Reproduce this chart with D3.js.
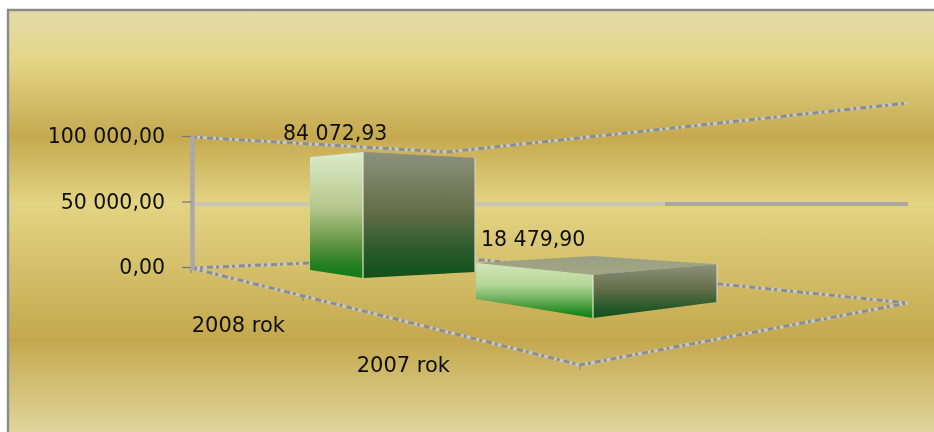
<!DOCTYPE html>
<html><head><meta charset="utf-8">
<script src="https://cdn.jsdelivr.net/npm/d3@7"></script>
<style>html,body{margin:0;padding:0;background:#fff}svg{display:block}text{font-family:"DejaVu Sans",sans-serif;fill:#111}</style>
</head><body><div id="chart"></div>
<script>
const categories = ["2008 rok", "2007 rok"];
const values = [84072.93, 18479.90];
const valueTicks = [0, 50000, 100000];

const W = 934, H = 432;
const svg = d3.select("#chart").append("svg").attr("width", W).attr("height", H);
const defs = svg.append("defs");
function grad(id, stops) {
  const g = defs.append("linearGradient").attr("id", id).attr("x1",0).attr("y1",0).attr("x2",0).attr("y2",1);
  stops.forEach(([o,c]) => g.append("stop").attr("offset", o).attr("stop-color", c));
}
grad("bg", [[0,"#e3dba9"],[0.115,"#e4d688"],[0.30,"#c5a94f"],[0.46,"#e3d483"],[0.78,"#c4a84e"],[1,"#e1d59b"]]);
grad("left0", [[0,"#dcebca"],[0.45,"#b4c68b"],[0.72,"#649643"],[0.88,"#2b8026"],[1,"#0e7a14"]]);
grad("left1", [[0,"#d2e5b8"],[0.4,"#b5d698"],[0.7,"#62aa52"],[0.9,"#218c22"],[1,"#0f7e14"]]);
grad("right", [[0,"#8d917c"],[0.45,"#676f4a"],[0.8,"#28592a"],[1,"#10501c"]]);
grad("top", [[0,"#9a9f82"],[1,"#a2a787"]]);
defs.append("filter").attr("id","soft").append("feGaussianBlur").attr("stdDeviation",0.45);

// background, with the frame showing only at the top and left
svg.append("rect").attr("x",8).attr("y",10).attr("width",W-8).attr("height",H-10).attr("fill","url(#bg)");
svg.append("path").attr("d",`M8,${H}V10H${W}`).attr("fill","none").attr("stroke","#8c8c86").attr("stroke-width",2.4);

const plot = svg.append("g").attr("filter","url(#soft)");

const font = 20.5;
const y = d3.scaleLinear().domain([0,100000]).range([267,136]);
const fmtLocale = d3.formatLocale({decimal:",",thousands:"\u00a0",grouping:[3],currency:["","zł"]});
const fmt = fmtLocale.format(",.2f");

function mottled(pts) {
  const line = d3.line();
  plot.append("path").attr("d",line(pts)).attr("fill","none").attr("stroke","#c8c7bf").attr("stroke-width",3.2);
  plot.append("path").attr("d",line(pts)).attr("fill","none").attr("stroke","#8d8c88").attr("stroke-width",3).attr("stroke-dasharray","6 3 3 4");
}
// walls and floor
mottled([[191,y(100000)+1],[447,152],[908,103]]);
mottled([[191,268],[452,257],[908,303]]);
mottled([[191,268],[580,365],[908,303]]);
// floor tick marks
[[191,268],[303,296],[580,365]].forEach(([x0,y0]) =>
  plot.append("line").attr("x1",x0).attr("x2",x0).attr("y1",y0).attr("y2",y0+5).attr("stroke","#8a8985").attr("stroke-width",1.2));

// 50 000 gridline
plot.append("line").attr("x1",193).attr("x2",665).attr("y1",y(50000)+2.5).attr("y2",y(50000)+2.5).attr("stroke","#c8c5b4").attr("stroke-width",4);
plot.append("line").attr("x1",665).attr("x2",908).attr("y1",y(50000)+2.5).attr("y2",y(50000)+2.5).attr("stroke","#a8a69f").attr("stroke-width",4);

// value axis
const axis = d3.axisLeft(y).tickValues(valueTicks).tickFormat(fmt).tickSize(9).tickPadding(17);
const ax = plot.append("g").attr("transform","translate(191,0)").call(axis);
ax.select(".domain").attr("stroke","#aaa9a5").attr("stroke-width",4.5).attr("d",`M1.5,${y(100000)}V${y(0)+3}`);
ax.selectAll(".tick line").attr("stroke","#77776f").attr("stroke-width",1.2);
ax.selectAll(".tick text").style("font-size",font+"px").style("font-family",'"DejaVu Sans",sans-serif').attr("fill","#111");

// bar projection: each visible corner is a point scale over the categories
const pt = r => d3.scalePoint().domain(categories).range(r);
const leftX = pt([310,476]), leftBase = pt([270,299]);
const cornerX = pt([363,593]), cornerBase = pt([278,318]);
const rightX = pt([475,717]), rightBase = pt([272,302]);
const backOffset = pt([8,-19]);
const fL = pt([0.897,0.84]), fR = pt([0.905,0.88]);
const h = d3.scalePow().exponent(0.71).domain([0,84072.93]).range([0,126]);

const data = categories.map((c,i)=>({c,v:values[i],i}));
const poly = d3.line();
const bars = plot.append("g").selectAll("g").data(data).join("g");
bars.each(function(d){
  const g = d3.select(this), H0 = h(d.v);
  const L=[leftX(d.c),leftBase(d.c)-H0*fL(d.c)], C=[cornerX(d.c),cornerBase(d.c)-H0],
        R=[rightX(d.c),rightBase(d.c)-H0*fR(d.c)], B=[cornerX(d.c),C[1]+backOffset(d.c)];
  const Lb=[L[0],leftBase(d.c)], Cb=[C[0],cornerBase(d.c)], Rb=[R[0],rightBase(d.c)];
  g.append("path").attr("d",poly([L,B,R,C])+"Z").attr("fill","url(#top)");
  g.append("path").attr("d",poly([L,C,Cb,Lb])+"Z").attr("fill",`url(#left${d.i})`);
  g.append("path").attr("d",poly([C,R,Rb,Cb])+"Z").attr("fill","url(#right)");
  g.append("line").attr("x1",C[0]).attr("x2",C[0]).attr("y1",C[1]).attr("y2",Cb[1]).attr("stroke","#e8efd8").attr("stroke-opacity",0.55).attr("stroke-width",2);
  g.append("line").attr("x1",R[0]).attr("x2",R[0]).attr("y1",R[1]).attr("y2",Rb[1]).attr("stroke","#cfd2c4").attr("stroke-opacity",0.6).attr("stroke-width",2);
});

// value labels
const labX = pt([283,481]), labY = pt([140,246]);
plot.append("g").selectAll("text").data(data).join("text")
  .attr("x",d=>labX(d.c)).attr("y",d=>labY(d.c)).style("font-size",font+"px").text(d=>fmt(d.v));

// category labels
const catX = pt([285,450]), catY = pt([332,372]);
plot.append("g").selectAll("text").data(categories).join("text")
  .attr("x",d=>catX(d)).attr("y",d=>catY(d)).attr("text-anchor","end").style("font-size","21px").text(d=>d);
</script></body></html>
